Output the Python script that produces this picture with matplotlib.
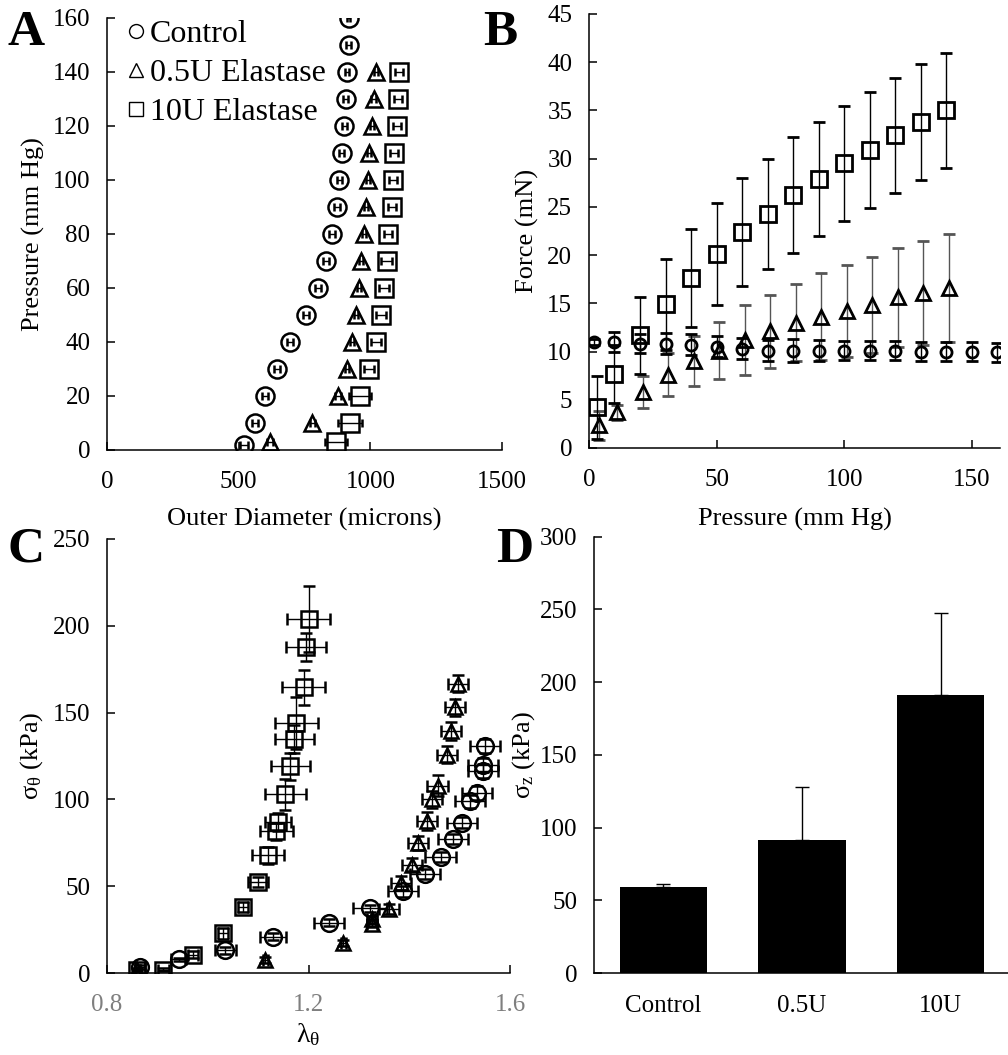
import numpy as np
import matplotlib
matplotlib.use("Agg")
import matplotlib.pyplot as plt
from matplotlib.lines import Line2D

plt.rcParams["font.family"] = ["Liberation Serif", "DejaVu Serif"]
plt.rcParams["mathtext.fontset"] = "custom"
plt.rcParams["mathtext.rm"] = "Liberation Serif"
plt.rcParams["mathtext.it"] = "Liberation Serif:italic"

# ---- Panel A: pressure vs outer diameter ----
a_ctrl_p = [2, 10, 20, 30, 40, 50, 60, 70, 80, 90, 100, 110, 120, 130, 140, 150, 160]
a_ctrl_d = [520, 562, 600, 645, 695, 755, 800, 832, 855, 872, 882, 891, 901, 906, 910, 917, 917]
a_ctrl_e = [15, 12, 12, 12, 12, 12, 12, 12, 12, 12, 10, 10, 10, 10, 8, 8, 5]
a_half_p = [3, 10, 20, 30, 40, 50, 60, 70, 80, 90, 100, 110, 120, 130, 140]
a_half_d = [619, 779, 876, 910, 931, 945, 957, 964, 977, 982, 990, 996, 1005, 1012, 1020]
a_half_e = [10, 10, 12, 8, 8, 8, 8, 8, 8, 8, 8, 8, 8, 8, 8]
a_ten_p = [3, 10, 20, 30, 40, 50, 60, 70, 80, 90, 100, 110, 120, 130, 140]
a_ten_d = [870, 923, 960, 995, 1021, 1040, 1052, 1062, 1068, 1081, 1085, 1091, 1100, 1106, 1109]
a_ten_e = [42, 45, 42, 20, 20, 20, 20, 20, 15, 15, 15, 15, 15, 15, 15]

# ---- Panel B: force vs pressure ----
b_ctrl_p = [2, 10, 20, 30, 40, 50, 60, 70, 80, 90, 100, 110, 120, 130, 140, 150, 160]
b_ctrl_f = [11.0, 11.0, 10.8, 10.8, 10.7, 10.5, 10.3, 10.1, 10.1, 10.1, 10.1, 10.1, 10.1, 10.0, 10.0, 10.0, 9.9]
b_ctrl_e = [0.3, 1.0, 1.0, 1.1, 1.1, 1.1, 1.1, 1.1, 1.2, 1.1, 1.0, 1.0, 1.0, 1.0, 1.0, 1.0, 1.0]
b_half_p = [4, 11, 21, 31, 41, 51, 61, 71, 81, 91, 101, 111, 121, 131, 141]
b_half_f = [2.35, 3.7, 5.8, 7.6, 9.0, 10.1, 11.2, 12.1, 13.0, 13.6, 14.2, 14.8, 15.6, 16.1, 16.6]
b_half_e = [1.5, 0.8, 1.7, 2.2, 2.6, 3.0, 3.6, 3.8, 4.0, 4.5, 4.8, 5.0, 5.1, 5.4, 5.6]
b_ten_p = [3, 10, 20, 30, 40, 50, 60, 70, 80, 90, 100, 110, 120, 130, 140]
b_ten_f = [4.2, 7.7, 11.7, 14.9, 17.6, 20.1, 22.4, 24.3, 26.2, 27.9, 29.5, 30.9, 32.4, 33.8, 35.0]
b_ten_e = [3.3, 3.0, 4.0, 4.7, 5.1, 5.3, 5.6, 5.7, 6.0, 5.9, 6.0, 6.0, 6.0, 6.0, 6.0]

# ---- Panel C: circumferential stress vs stretch ----
c_ctrl_l = [0.866, 0.942, 1.035, 1.13, 1.24, 1.322, 1.388, 1.431, 1.462, 1.486, 1.504, 1.52, 1.534, 1.546, 1.547, 1.55]
c_ctrl_s = [3.5, 7.9, 13, 20.8, 29, 37.3, 47, 57, 66.8, 77.2, 86.6, 98.8, 103.7, 116.5, 119.8, 131]
c_ctrl_xe = [0.01, 0.015, 0.02, 0.026, 0.03, 0.034, 0.03, 0.03, 0.03, 0.03, 0.03, 0.03, 0.03, 0.03, 0.03, 0.03]
c_ctrl_ye = [1, 1, 2, 2, 2, 2, 3, 3, 3, 3, 3, 4, 4, 4, 4, 4]
c_half_l = [0.86, 1.114, 1.269, 1.326, 1.326, 1.359, 1.384, 1.405, 1.418, 1.435, 1.445, 1.456, 1.474, 1.482, 1.49, 1.497]
c_half_s = [1.5, 7.5, 17.3, 28.5, 31, 37, 51.7, 62.5, 74.7, 87.6, 100, 108, 125.7, 139.5, 153, 166.6]
c_half_xe = [0.005, 0.005, 0.005, 0.01, 0.01, 0.02, 0.02, 0.02, 0.02, 0.02, 0.02, 0.02, 0.02, 0.02, 0.02, 0.02]
c_half_ye = [1, 2, 2, 2, 2, 3, 4, 4, 4, 5, 5, 6, 5, 5, 5, 5]
c_ten_l = [0.86, 0.912, 0.97, 1.03, 1.07, 1.10, 1.12, 1.136, 1.14, 1.154, 1.164, 1.172, 1.176, 1.19, 1.195, 1.2]
c_ten_s = [2, 2, 10.4, 22.8, 37.9, 52.3, 67.8, 81.7, 87, 103, 119, 135, 144, 164.6, 188, 204]
c_ten_xe = [0.005, 0.01, 0.01, 0.01, 0.01, 0.02, 0.032, 0.033, 0.026, 0.04, 0.039, 0.039, 0.042, 0.043, 0.04, 0.043]
c_ten_ye = [1, 1, 2, 3, 3, 3, 5, 5, 5, 9, 8, 8, 15, 10, 8, 19]

# ---- Panel D: axial stress ----
d_groups = ["Control", "0.5U", "10U"]
d_vals = [59.0, 91.3, 191.4]
d_errs = [2.3, 36.7, 56.2]


def style_axes(ax):
    for s in ["top", "right"]:
        ax.spines[s].set_visible(False)
    for s in ["left", "bottom"]:
        ax.spines[s].set_linewidth(1.1)
    ax.tick_params(direction="in", length=6, width=1.1, labelsize=18, pad=12)
    ax.tick_params(axis="x", pad=15)


fig = plt.figure(figsize=(10.08, 10.55), dpi=100)

# ---------------- A ----------------
axA = fig.add_axes([0.1062, 0.5735, 0.3919, 0.4095])
mk = dict(mfc="none", mec="black", mew=1.8, ecolor="black", elinewidth=1, capsize=3, ls="none")
axA.errorbar(a_ctrl_d, a_ctrl_p, xerr=a_ctrl_e, fmt="o", ms=13, **mk)
axA.errorbar(a_half_d, a_half_p, xerr=a_half_e, fmt="^", ms=12, **mk)
axA.errorbar(a_ten_d, a_ten_p, xerr=a_ten_e, fmt="s", ms=13, **mk)
axA.set_xlim(0, 1500)
axA.set_ylim(0, 160)
axA.set_xticks([0, 500, 1000, 1500])
axA.set_yticks(range(0, 161, 20))
style_axes(axA)
axA.set_xlabel("Outer Diameter (microns)", fontsize=19, labelpad=11)
axA.set_ylabel("Pressure (mm Hg)", fontsize=19, labelpad=6)
handles = [Line2D([], [], marker=m, ls="none", mfc="none", mec="black", mew=1.0, ms=10)
           for m in ["o", "^", "s"]]
axA.legend(handles, ["Control", "0.5U Elastase", "10U Elastase"], loc="upper left",
           bbox_to_anchor=(0.02, 1.026), frameon=False, fontsize=23,
           handlelength=0.5, handletextpad=0.2, labelspacing=0.3, borderaxespad=0)

# ---------------- B ----------------
axB = fig.add_axes([0.5843, 0.5754, 0.4077, 0.4114])
mkb = dict(mfc="none", mec="black", mew=2.0, elinewidth=1, capsize=4, ls="none")
axB.errorbar(b_half_p, b_half_f, yerr=b_half_e, fmt="^", ms=10, ecolor="#555555", **mkb)
axB.errorbar(b_ctrl_p, b_ctrl_f, yerr=b_ctrl_e, fmt="o", ms=8, ecolor="black", **mkb)
axB.errorbar(b_ten_p, b_ten_f, yerr=b_ten_e, fmt="s", ms=11, ecolor="black", **mkb)
axB.set_xlim(0, 161)
axB.set_ylim(0, 45)
axB.set_xticks([0, 50, 100, 150])
axB.set_yticks(range(0, 46, 5))
style_axes(axB)
axB.set_xlabel("Pressure (mm Hg)", fontsize=19, labelpad=12)
axB.set_ylabel("Force (mN)", fontsize=19, labelpad=6)

# ---------------- C ----------------
axC = fig.add_axes([0.1062, 0.0777, 0.3998, 0.4114])
mkc = dict(mfc="none", mec="black", mew=1.8, ecolor="black", elinewidth=1, capsize=4, ls="none")
axC.errorbar(c_ctrl_l, c_ctrl_s, xerr=c_ctrl_xe, yerr=c_ctrl_ye, fmt="o", ms=12, **mkc)
axC.errorbar(c_half_l, c_half_s, xerr=c_half_xe, yerr=c_half_ye, fmt="^", ms=10, **mkc)
axC.errorbar(c_ten_l, c_ten_s, xerr=c_ten_xe, yerr=c_ten_ye, fmt="s", ms=12, **mkc)
axC.set_xlim(0.8, 1.6)
axC.set_ylim(0, 250)
axC.set_xticks([0.8, 1.2, 1.6])
axC.set_xticklabels(["0.8", "1.2", "1.6"])
axC.set_yticks(range(0, 251, 50))
style_axes(axC)
axC.tick_params(axis="x", labelcolor="#7f7f7f")
axC.set_xlabel(r"λ$_{\mathregular{θ}}$", fontsize=20, labelpad=4)
axC.set_ylabel(r"σ$_{\mathregular{θ}}$ (kPa)", fontsize=19, labelpad=6)

# ---------------- D ----------------
axD = fig.add_axes([0.5893, 0.0777, 0.4127, 0.4137])
xs = np.arange(len(d_groups))
axD.bar(xs, d_vals, width=0.63, color="black")
axD.errorbar(xs, d_vals, yerr=[np.zeros(len(d_errs)), d_errs], fmt="none",
             ecolor="black", elinewidth=1, capsize=5)
axD.set_xlim(-0.5, 2.5)
axD.set_ylim(0, 300)
axD.set_yticks(range(0, 301, 50))
axD.set_xticks(xs)
axD.set_xticklabels(d_groups)
style_axes(axD)
axD.tick_params(axis="x", length=0, pad=16)
axD.set_ylabel(r"σ$_{\mathregular{z}}$ (kPa)", fontsize=19, labelpad=2)

# panel letters
for lbl, x, y in [("A", 8, 45), ("B", 483, 45), ("C", 8, 562), ("D", 496, 562)]:
    fig.text(x / 1008, 1 - y / 1055, lbl, fontsize=37, fontweight="bold", va="baseline")

fig.savefig("out.png", dpi=100)
